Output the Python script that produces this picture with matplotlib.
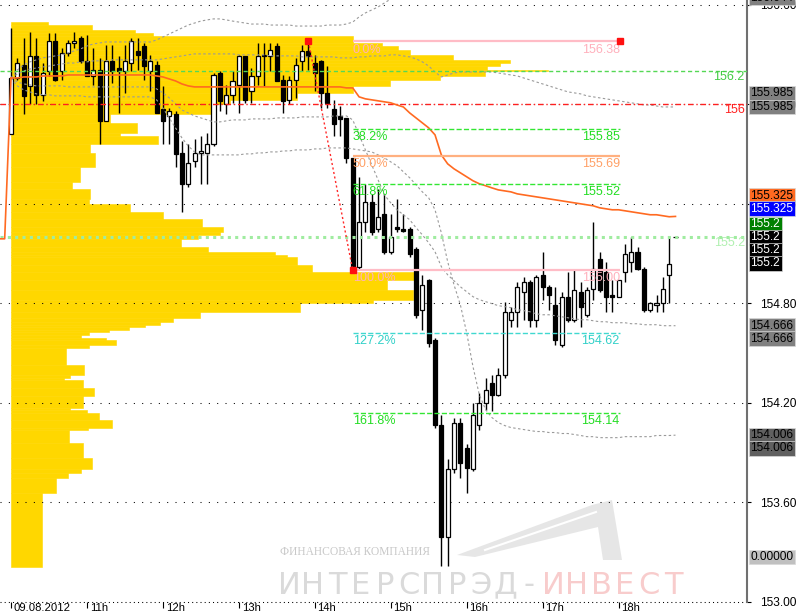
import matplotlib
matplotlib.use('Agg')
import matplotlib.pyplot as plt
import matplotlib.transforms as mtransforms
from matplotlib.patches import Polygon
from matplotlib import font_manager
import numpy as np

plt.rcParams['font.family'] = ['Liberation Sans', 'DejaVu Sans']

# 5 min bars, index 0 = 09.08.2012 10:00
opens = [155.82, 156.16, 156.24, 156.11, 156.29, 156.06, 156.20, 156.38, 156.20, 156.31,
         156.37, 156.40, 156.26, 156.17, 156.21, 155.90, 156.26, 156.22, 156.20, 156.25,
         156.32, 156.35, 156.20, 156.24, 155.97, 155.93, 155.94, 155.71, 155.52, 155.66,
         155.71, 155.71, 155.76, 156.19, 156.00, 156.06, 156.12, 156.29, 156.08, 156.17,
         156.30, 156.29, 156.35, 156.15, 156.03, 156.15, 156.26, 156.32, 156.25, 156.26,
         156.07, 155.97, 155.93, 155.92, 155.68, 155.02, 155.29, 155.41, 155.25, 155.34,
         155.11, 155.26, 155.25, 155.25, 155.13, 154.76, 154.94, 154.58, 154.07, 153.39,
         153.80, 154.08, 153.93, 153.80, 154.07, 154.20, 154.32, 154.25, 154.37, 154.70,
         154.75, 154.87, 154.93, 154.70, 154.97, 154.90, 154.79, 154.55, 154.84, 154.70,
         154.87, 154.73, 154.89, 155.07, 154.99, 154.85, 154.84, 154.99, 155.05, 155.11,
         155.01, 154.76, 154.79, 154.80, 154.97, 155.20]
highs = [156.46, 156.28, 156.40, 156.44, 156.40, 156.25, 156.43, 156.43, 156.34, 156.39,
         156.44, 156.41, 156.42, 156.34, 156.28, 156.36, 156.36, 156.29, 156.36, 156.40,
         156.40, 156.37, 156.30, 156.26, 156.11, 155.98, 155.96, 155.78, 155.76, 155.79,
         155.81, 155.83, 156.19, 156.20, 156.12, 156.20, 156.30, 156.29, 156.22, 156.37,
         156.37, 156.37, 156.37, 156.18, 156.17, 156.28, 156.36, 156.38, 156.30, 156.27,
         156.23, 156.03, 155.99, 155.92, 155.68, 155.56, 155.52, 155.46, 155.49, 155.46,
         155.34, 155.43, 155.34, 155.26, 155.14, 154.97, 154.95, 154.59, 154.13, 153.86,
         154.11, 154.11, 153.95, 154.20, 154.26, 154.35, 154.37, 154.41, 154.81, 154.78,
         154.93, 154.96, 154.94, 154.97, 155.11, 154.91, 154.90, 154.87, 154.99, 155.00,
         154.93, 154.90, 155.29, 155.11, 155.05, 154.94, 154.94, 155.16, 155.20, 155.14,
         155.02, 154.81, 154.85, 154.96, 155.20, 155.20]
lows = [155.82, 156.15, 155.94, 156.00, 156.00, 156.02, 156.17, 156.14, 156.15, 156.29,
        156.34, 156.25, 156.17, 156.12, 155.76, 155.90, 156.13, 155.95, 156.07, 156.20,
        156.21, 156.15, 156.08, 155.95, 155.76, 155.76, 155.62, 155.35, 155.50, 155.62,
        155.52, 155.52, 155.75, 155.96, 155.94, 156.01, 155.95, 156.01, 156.01, 156.12,
        156.11, 156.20, 156.14, 155.95, 156.00, 156.04, 156.20, 156.21, 156.08, 155.98,
        155.98, 155.81, 155.81, 155.65, 155.00, 155.01, 155.23, 155.21, 155.23, 155.10,
        155.10, 155.23, 155.23, 155.08, 154.71, 154.64, 154.54, 154.05, 153.22, 153.22,
        153.78, 153.75, 153.66, 153.79, 154.04, 154.16, 154.15, 154.24, 154.35, 154.66,
        154.66, 154.70, 154.66, 154.66, 154.82, 154.76, 154.55, 154.54, 154.69, 154.69,
        154.66, 154.72, 154.82, 154.87, 154.75, 154.75, 154.84, 154.93, 154.99, 155.00,
        154.75, 154.75, 154.75, 154.75, 154.80, 155.20]
closes = [156.16, 156.25, 156.05, 156.29, 156.06, 156.19, 156.38, 156.15, 156.31, 156.37,
          156.38, 156.26, 156.17, 156.21, 155.90, 156.26, 156.20, 156.20, 156.26, 156.38,
          156.30, 156.23, 156.26, 155.95, 155.90, 155.96, 155.70, 155.52, 155.65, 155.71,
          155.72, 155.76, 156.18, 156.02, 156.06, 156.14, 156.29, 156.03, 156.17, 156.29,
          156.29, 156.33, 156.14, 156.02, 156.15, 156.24, 156.32, 156.29, 156.19, 156.07,
          156.01, 155.88, 155.91, 155.68, 155.02, 155.29, 155.41, 155.23, 155.32, 155.11,
          155.20, 155.25, 155.24, 155.10, 154.73, 154.91, 154.56, 154.07, 153.39, 153.80,
          154.08, 153.84, 153.81, 154.13, 154.20, 154.28, 154.25, 154.37, 154.75, 154.75,
          154.90, 154.93, 154.70, 154.96, 154.90, 154.85, 154.58, 154.84, 154.70, 154.88,
          154.78, 154.88, 155.01, 154.88, 154.84, 154.84, 154.94, 155.10, 155.11, 155.01,
          154.76, 154.80, 154.80, 154.89, 155.04, 155.20]

# session VWAP and its deviation bands
vwap = [156.160, 156.160, 156.166, 156.166, 156.166, 156.172, 156.172, 156.172, 156.172, 156.178,
        156.178, 156.178, 156.178, 156.178, 156.178, 156.178, 156.178, 156.178, 156.178, 156.178,
        156.178, 156.178, 156.178, 156.172, 156.166, 156.154, 156.142, 156.124, 156.112, 156.106,
        156.106, 156.106, 156.106, 156.106, 156.106, 156.106, 156.106, 156.106, 156.106, 156.106,
        156.106, 156.106, 156.106, 156.106, 156.106, 156.106, 156.106, 156.106, 156.106, 156.106,
        156.106, 156.106, 156.106, 156.100, 156.100, 156.046, 156.034, 156.028, 156.022, 156.016,
        156.010, 155.997, 155.985, 155.949, 155.919, 155.889, 155.859, 155.817, 155.696, 155.642,
        155.612, 155.588, 155.564, 155.540, 155.522, 155.510, 155.497, 155.485, 155.479, 155.473,
        155.461, 155.455, 155.449, 155.443, 155.437, 155.431, 155.425, 155.419, 155.413, 155.407,
        155.401, 155.395, 155.389, 155.377, 155.371, 155.365, 155.365, 155.359, 155.353, 155.347,
        155.341, 155.335, 155.335, 155.329, 155.323, 155.325]
band_up2 = [156.160, 156.208, 156.238, 156.257, 156.269, 156.281, 156.287, 156.293, 156.299, 156.311,
            156.323, 156.335, 156.353, 156.365, 156.371, 156.377, 156.377, 156.377, 156.377, 156.377,
            156.377, 156.377, 156.377, 156.389, 156.407, 156.425, 156.443, 156.461, 156.479, 156.491,
            156.503, 156.510, 156.516, 156.516, 156.510, 156.503, 156.497, 156.491, 156.485, 156.485,
            156.485, 156.479, 156.479, 156.479, 156.479, 156.473, 156.473, 156.473, 156.473, 156.473,
            156.479, 156.479, 156.479, 156.485, 156.497, 156.528, 156.552, 156.570, 156.588, 156.612,
            156.636, 156.678, 156.720, 156.763, 156.811, 156.859, 156.907, 156.955, 157.003, 157.028,
            157.040, 157.040, 157.034, 157.028, 157.016, 157.003, 156.991, 156.979, 156.967, 156.955,
            156.943, 156.931, 156.919, 156.907, 156.895, 156.883, 156.871, 156.859, 156.847, 156.835,
            156.823, 156.811, 156.799, 156.787, 156.775, 156.763, 156.750, 156.738, 156.726, 156.714,
            156.702, 156.690, 156.678, 156.666, 156.654, 156.644]
band_up1 = [156.160, 156.184, 156.202, 156.214, 156.220, 156.226, 156.232, 156.238, 156.244, 156.250,
            156.250, 156.257, 156.257, 156.263, 156.263, 156.263, 156.269, 156.269, 156.269, 156.269,
            156.269, 156.269, 156.269, 156.269, 156.275, 156.281, 156.287, 156.293, 156.299, 156.305,
            156.305, 156.305, 156.305, 156.305, 156.305, 156.305, 156.299, 156.299, 156.299, 156.299,
            156.299, 156.293, 156.293, 156.293, 156.293, 156.293, 156.287, 156.287, 156.287, 156.287,
            156.287, 156.287, 156.281, 156.281, 156.281, 156.287, 156.287, 156.293, 156.293, 156.293,
            156.299, 156.299, 156.293, 156.287, 156.275, 156.257, 156.232, 156.196, 156.166, 156.178,
            156.190, 156.196, 156.196, 156.196, 156.196, 156.196, 156.196, 156.190, 156.184, 156.178,
            156.172, 156.160, 156.148, 156.136, 156.124, 156.112, 156.100, 156.088, 156.076, 156.070,
            156.064, 156.052, 156.046, 156.040, 156.034, 156.028, 156.022, 156.016, 156.010, 156.004,
            155.997, 155.997, 155.991, 155.985, 155.985, 155.985]
band_dn1 = [156.160, 156.136, 156.124, 156.118, 156.112, 156.112, 156.112, 156.112, 156.112, 156.106,
            156.106, 156.106, 156.106, 156.106, 156.106, 156.106, 156.106, 156.106, 156.106, 156.106,
            156.106, 156.106, 156.106, 156.094, 156.070, 156.040, 156.004, 155.967, 155.949, 155.931,
            155.919, 155.907, 155.895, 155.895, 155.901, 155.907, 155.907, 155.907, 155.913, 155.913,
            155.913, 155.913, 155.919, 155.919, 155.919, 155.919, 155.925, 155.925, 155.925, 155.925,
            155.925, 155.931, 155.931, 155.931, 155.907, 155.817, 155.726, 155.636, 155.546, 155.455,
            155.407, 155.365, 155.335, 155.305, 155.257, 155.214, 155.166, 155.112, 155.022, 154.973,
            154.937, 154.901, 154.871, 154.841, 154.823, 154.811, 154.799, 154.787, 154.781, 154.775,
            154.763, 154.757, 154.750, 154.738, 154.732, 154.732, 154.726, 154.720, 154.714, 154.708,
            154.702, 154.702, 154.696, 154.690, 154.690, 154.684, 154.684, 154.684, 154.678, 154.678,
            154.672, 154.672, 154.672, 154.666, 154.666, 154.666]
band_dn2 = [156.160, 156.112, 156.088, 156.076, 156.064, 156.058, 156.058, 156.052, 156.052, 156.052,
            156.052, 156.052, 156.046, 156.046, 156.046, 156.046, 156.046, 156.046, 156.046, 156.046,
            156.046, 156.046, 156.046, 156.028, 155.979, 155.919, 155.859, 155.799, 155.750, 155.714,
            155.696, 155.696, 155.696, 155.696, 155.696, 155.696, 155.696, 155.702, 155.702, 155.708,
            155.708, 155.714, 155.714, 155.720, 155.720, 155.726, 155.726, 155.726, 155.732, 155.732,
            155.738, 155.738, 155.738, 155.738, 155.732, 155.726, 155.720, 155.714, 155.696, 155.678,
            155.654, 155.630, 155.594, 155.558, 155.516, 155.473, 155.437, 155.365, 155.226, 155.052,
            154.913, 154.793, 154.624, 154.419, 154.250, 154.160, 154.112, 154.082, 154.064, 154.052,
            154.046, 154.040, 154.034, 154.028, 154.028, 154.022, 154.022, 154.016, 154.016, 154.010,
            154.004, 153.997, 153.997, 153.991, 153.991, 153.991, 153.991, 153.997, 153.997, 153.997,
            153.997, 153.997, 154.004, 154.004, 154.004, 154.006]
prev_x = [-2, -1]
prev_vwap = [155.19, 155.19]

# volume profile: price bin edges (top to bottom) and volume in bar units
prof_edges = [156.50, 156.48, 156.45, 156.43, 156.41, 156.37, 156.35, 156.33, 156.30, 156.27,
              156.25, 156.23, 156.21, 156.20, 156.17, 156.15, 156.11, 156.07, 156.03, 156.00,
              155.94, 155.89, 155.83, 155.81, 155.76, 155.71, 155.62, 155.53, 155.49, 155.43,
              155.40, 155.35, 155.31, 155.26, 155.23, 155.21, 155.19, 155.14, 155.11, 155.09,
              155.08, 155.03, 154.99, 154.94, 154.88, 154.82, 154.80, 154.75, 154.71, 154.69,
              154.67, 154.66, 154.64, 154.63, 154.61, 154.59, 154.58, 154.55, 154.53, 154.43,
              154.37, 154.35, 154.34, 154.29, 154.24, 154.17, 154.16, 154.14, 154.10, 154.05,
              154.04, 153.96, 153.87, 153.80, 153.78, 153.75, 153.66, 153.21]
prof_vol = [5.8, 12.8, 19.6, 22.4, 54.0, 58.6, 61.1, 63.0, 69.8, 78.8,
            77.3, 75.2, 84.8, 74.9, 67.8, 59.9, 54.0, 45.2, 34.6, 31.9,
            15.6, 19.9, 17.2, 23.2, 12.5, 13.3, 10.9, 9.6, 12.5, 12.3,
            18.8, 24.0, 30.2, 33.5, 33.0, 29.5, 26.9, 31.1, 41.7, 43.6,
            45.2, 47.6, 63.8, 59.4, 63.5, 57.2, 45.7, 29.9, 25.6, 23.5,
            21.2, 18.6, 15.5, 12.3, 11.1, 15.0, 16.6, 12.3, 8.7, 11.5,
            9.3, 8.4, 11.4, 13.1, 11.4, 9.3, 12.0, 13.9, 16.0, 12.2,
            9.2, 11.4, 12.8, 11.1, 9.0, 7.1, 4.9]

# fibonacci tool
fib_hi_bar, fib_lo_bar, fib_end_bar = 47, 54, 96.2
fib_levels = ['0.0%', '38.2%', '50.0%', '61.8%', '100.0%', '127.2%', '161.8%']
fib_prices = [156.38, 155.85, 155.69, 155.52, 155.00, 154.62, 154.14]
fib_colors = ['#ffbcc6', '#33e633', '#ffb080', '#33e633', '#ffbcc6', '#40d8d0', '#33e633']
fib_text = ['#ffb0bc', '#22dd22', '#ffa066', '#22dd22', '#ffb0bc', '#30d0c8', '#22dd22']
fib_ls = ['-', '--', '-', '--', '-', '--', '--']

# horizontal levels
level_prices = [156.2, 156.0, 155.2]
level_labels = ['156.2', '156', '155.2']

# price boxes on the scale
box_text = ['156.644', '155.985', '155.985', '155.325', '155.325', '155.2', '155.2', '155.2', '155.2',
            '154.666', '154.666', '154.006', '154.006']
box_price = [156.644, 155.985, 155.985, 155.325, 155.325, 155.2, 155.2, 155.2, 155.2,
             154.666, 154.666, 154.006, 154.006]
box_fc = ['#808080', '#808080', '#808080', '#ff6a21', '#0000ff', '#008000', '#000000', '#000000', '#000000',
          '#808080', '#808080', '#606060', '#606060']
box_tc = ['black', 'black', 'black', 'black', 'white', 'white', 'white', 'white', 'white',
          'black', 'black', 'black', 'black']
box_shift = [0, 13.5, 0, 20.6, 7.6, 13, 0, -13, -26, 0, -13, 0, -13]  # px

hour_ticks = [0, 12, 24, 36, 48, 60, 72, 84, 96]
hour_labels = ['09.08.2012', '11h', '12h', '13h', '14h', '15h', '16h', '17h', '18h']
price_ticks = [153.0, 153.6, 154.2, 154.8, 155.4, 156.0, 156.6]

fig = plt.figure(figsize=(8, 6.16), dpi=100)
ax = fig.add_axes([0, 14 / 616, 747 / 800, 602 / 616])
ax.set_xlim(-1.74, 116.3)
ax.set_ylim(153.0, 156.63)
fs = 7.6

# volume profile
edges = np.array(prof_edges)
ax.barh((edges[:-1] + edges[1:]) / 2, prof_vol, height=edges[:-1] - edges[1:], left=0,
        color='#ffd700', edgecolor='#ffd700', lw=0.4, zorder=1)

# grid
ax.set_yticks(price_ticks)
ax.set_yticklabels(['%.2f' % p for p in price_ticks])
ax.grid(axis='y', color='black', lw=0.75, linestyle=(0, (1, 7)))
ax.set_axisbelow('line')

# candles
x = np.arange(len(opens))
o, h, l, c = map(np.array, (opens, highs, lows, closes))
up = c >= o
ax.vlines(x, l, h, color='black', lw=1, zorder=3)
ax.bar(x[up], np.maximum(c - o, 0.002)[up], bottom=o[up], width=0.64,
       color='white', edgecolor='black', lw=0.9, zorder=4)
ax.bar(x[~up], (o - c)[~up], bottom=c[~up], width=0.64,
       color='black', edgecolor='black', lw=0.9, zorder=4)

# vwap + bands
for band in (band_up2, band_up1, band_dn1, band_dn2):
    ax.plot(x, band, color='#9a9a9a', lw=0.8, dashes=(2.2, 2.2), zorder=5)
ax.plot(prev_x + [0], prev_vwap + [vwap[0]], color='#ff6a21', lw=1.2, zorder=6)
ax.plot(x, vwap, color='#ff6a21', lw=1.2, zorder=6)

trans = mtransforms.blended_transform_factory(ax.transAxes, ax.transData)

# levels
ax.axhline(level_prices[0], color='#55d855', lw=1, dashes=(3, 2), zorder=5)
ax.axhline(level_prices[1], color='#ff2020', lw=1, dashes=(4, 2, 1, 2), zorder=5)
ax.axhline(level_prices[2], color='#a0eca0', lw=2.2, dashes=(1, 1.4), zorder=5)
for p, t, col in zip(level_prices, level_labels, ['#44cc44', '#ff2020', '#b0f0b0']):
    ax.text(0.997, p, t, transform=trans, ha='right', va='top', fontsize=fs + 1.4,
            color=col, zorder=7)

# fibonacci
ax.plot([fib_hi_bar, fib_lo_bar], [fib_prices[0], fib_prices[4]], color='#ff2a2a', lw=1,
        dashes=(1.5, 1.8), zorder=6)
for p, lab, col, tcol, ls in zip(fib_prices, fib_levels, fib_colors, fib_text, fib_ls):
    lw = 1.6 if ls == '-' else 1.0
    ax.hlines(p, fib_lo_bar, fib_end_bar, colors=col, linestyles=ls, lw=lw, zorder=6)
    ax.annotate(lab, (fib_lo_bar, p), xytext=(0, -1.5), textcoords='offset points',
                ha='left', va='top', fontsize=fs + 1.4, color=tcol, zorder=7)
    ax.annotate('%.2f' % p, (fib_end_bar, p), xytext=(0, -1.5), textcoords='offset points',
                ha='right', va='top', fontsize=fs + 1.4, color=tcol, zorder=7)
ax.plot([fib_hi_bar, fib_lo_bar, fib_end_bar], [fib_prices[0], fib_prices[4], fib_prices[0]],
        's', color='#ff1010', ms=4, zorder=8)

# axes look
for s in ('top', 'left', 'bottom'):
    ax.spines[s].set_visible(False)
ax.spines['right'].set_color('#707070')
ax.spines['right'].set_linewidth(1.5)
ax.yaxis.tick_right()
ax.tick_params(axis='y', length=3, pad=32.3, labelsize=fs + 1)
for lab in ax.get_yticklabels():
    lab.set_horizontalalignment('right')
ax.set_xticks(hour_ticks, hour_labels)
ax.tick_params(axis='x', length=4, pad=-3, labelsize=fs + 0.5)
off = mtransforms.ScaledTranslation(2 / 72, 0, fig.dpi_scale_trans)
for lab in ax.get_xticklabels():
    lab.set_horizontalalignment('left')
    lab.set_verticalalignment('top')
    lab.set_transform(lab.get_transform() + off)
ax.axhline(153.0, color='black', lw=0.75, dashes=(1, 3), zorder=2, clip_on=False)

# boxes on the price scale
for t, p, fc, tc, dy in zip(box_text, box_price, box_fc, box_tc, box_shift):
    ax.annotate(t, (1, p), xycoords=trans, xytext=(2.5, dy * 0.72), textcoords='offset points',
                ha='left', va='center', fontsize=fs + 1, color=tc, zorder=10,
                bbox=dict(boxstyle='square,pad=0.12', fc=fc, ec='#d8d8d8', lw=0.5))
ax.annotate('0.00000', (1, 45 / 602), xycoords='axes fraction', xytext=(2.5, 0),
            textcoords='offset points', ha='left', va='center', fontsize=fs + 1, color='black',
            bbox=dict(boxstyle='square,pad=0.12', fc='#c0c0c0', ec='#d8d8d8', lw=0.5))

# watermark
names = {f.name for f in font_manager.fontManager.ttflist}
wm_font = 'Liberation Sans Narrow' if 'Liberation Sans Narrow' in names else 'DejaVu Sans'
logo = Polygon([(457 / 747, 47 / 602), (592 / 747, 97 / 602), (612 / 747, 102 / 602),
                (622 / 747, 42 / 602), (603 / 747, 42 / 602), (598 / 747, 75 / 602),
                (475 / 747, 45 / 602)], closed=True, transform=ax.transAxes,
               fc='#e6e6e6', ec='none', zorder=0.5)
ax.add_patch(logo)
ax.plot([485 / 747, 596 / 747], [52 / 602, 90 / 602], transform=ax.transAxes, color='white',
        lw=1.5, zorder=0.6)
ax.text(280 / 747, 50 / 602, 'ФИНАНСОВАЯ КОМПАНИЯ', transform=ax.transAxes,
        family=['Liberation Serif', 'DejaVu Serif'], fontsize=8.3, color='#c8c8c8',
        ha='left', va='center', zorder=0.5)
letters = 'ИНТЕРСПРЭД-ИНВЕСТ'
for n, ch in enumerate(letters):
    col = '#dadada' if n < 11 else '#f8cccc'
    ax.text((289 + 24 * n) / 747, 17 / 602, ch, transform=ax.transAxes, family=[wm_font, 'DejaVu Sans'],
            fontsize=22, color=col, ha='center', va='center', zorder=0.5)

fig.savefig('out.png', dpi=100, facecolor='white')
